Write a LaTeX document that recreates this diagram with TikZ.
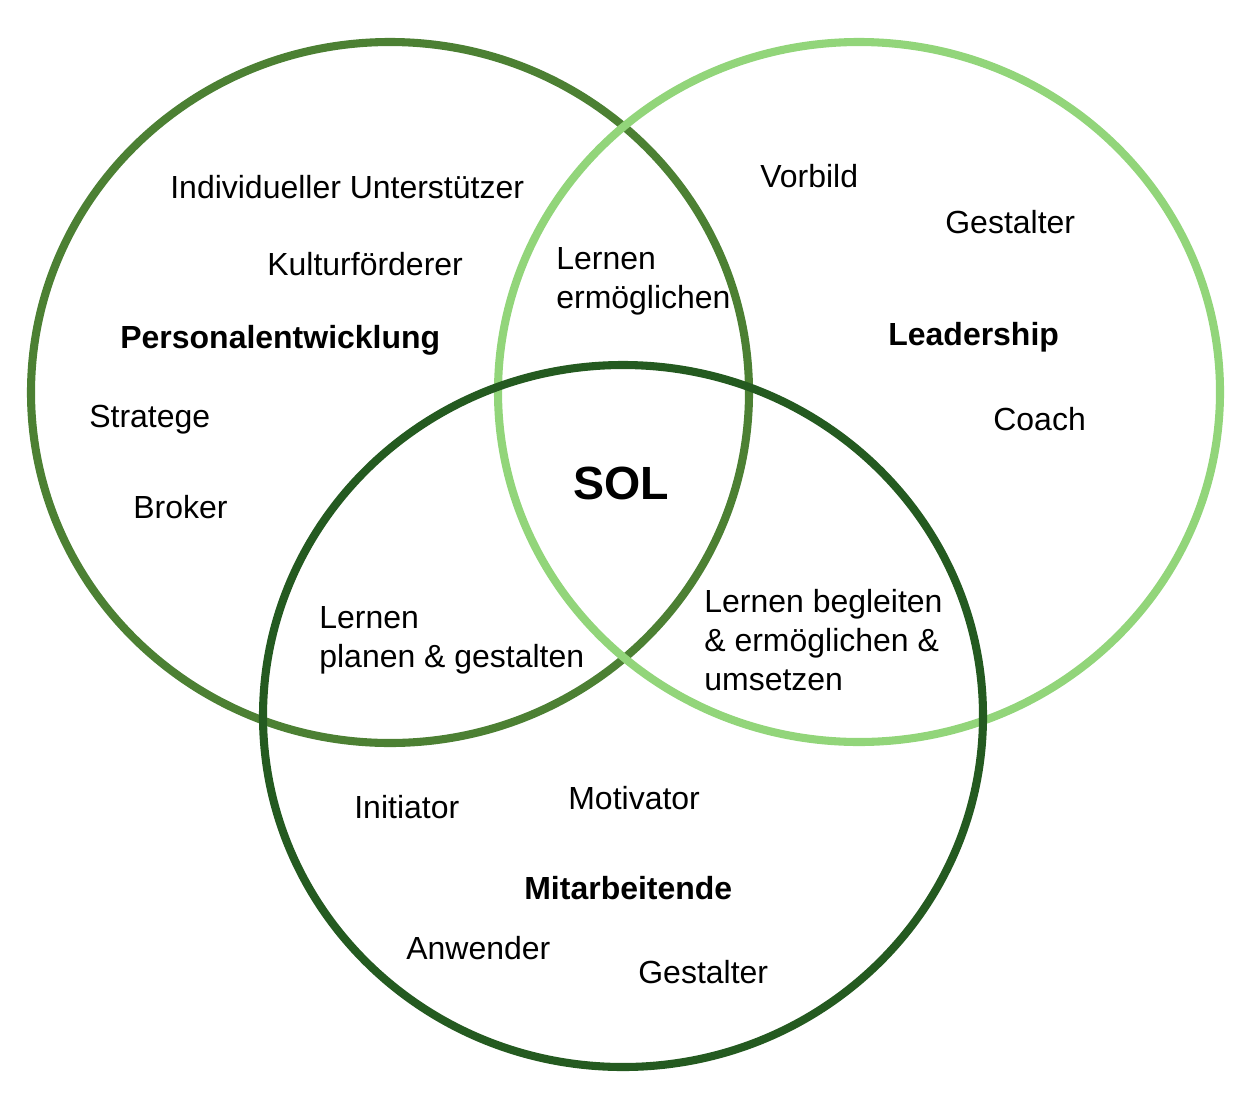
\documentclass[tikz,border=0pt]{standalone}
\usepackage{fontspec}
\setmainfont{Liberation Sans}
\definecolor{cpe}{RGB}{76,128,51}
\definecolor{cld}{RGB}{146,213,122}
\definecolor{cma}{RGB}{36,90,32}
\begin{document}
\begin{tikzpicture}[x=0.02cm,y=-0.02cm,
  ring/.style={line width=4.6pt},
  lbl/.style={anchor=base west,inner sep=0pt,align=left,font=\fontsize{18.2}{22.1}\selectfont},
  head/.style={lbl,font=\fontsize{18.2}{22.1}\selectfont\bfseries},
  sol/.style={anchor=base west,inner sep=0pt,font=\fontsize{26.5}{30}\selectfont\bfseries}]
\useasboundingbox (0,0) rectangle (1246,1102);
\draw[ring,cpe] (390,392.5) ellipse [x radius=359,y radius=350.5];
\draw[ring,cld] (859,392) ellipse [x radius=361,y radius=350];
\draw[ring,cma] (623,716) ellipse [x radius=360,y radius=351];

\node[lbl] (iu) at (170,198) {Individueller Unterstützer};
\node[lbl] (kf) at (267,275) {Kulturförderer};
\node[head] (pe) at (120,348) {Personalentwicklung};
\node[lbl] (st) at (89,427) {Stratege};
\node[lbl] (br) at (133,518) {Broker};
\node[lbl] (lp) at (319,667) {Lernen\\planen \& gestalten};
\node[lbl] (le) at (556,308) {Lernen\\ermöglichen};
\node[lbl] (vb) at (760,187) {Vorbild};
\node[lbl] (gs1) at (945,233) {Gestalter};
\node[head] (ld) at (888,345) {Leadership};
\node[lbl] (co) at (993,430) {Coach};
\node[sol] (sl) at (573,499) {SOL};
\node[lbl] (lb) at (704,690) {Lernen begleiten\\\& ermöglichen \&\\umsetzen};
\node[lbl] (in) at (354,818) {Initiator};
\node[lbl] (mo) at (568,809) {Motivator};
\node[head] (ma) at (524,899) {Mitarbeitende};
\node[lbl] (an) at (406,959) {Anwender};
\node[lbl] (gs2) at (638,983) {Gestalter};
\end{tikzpicture}
\end{document}
